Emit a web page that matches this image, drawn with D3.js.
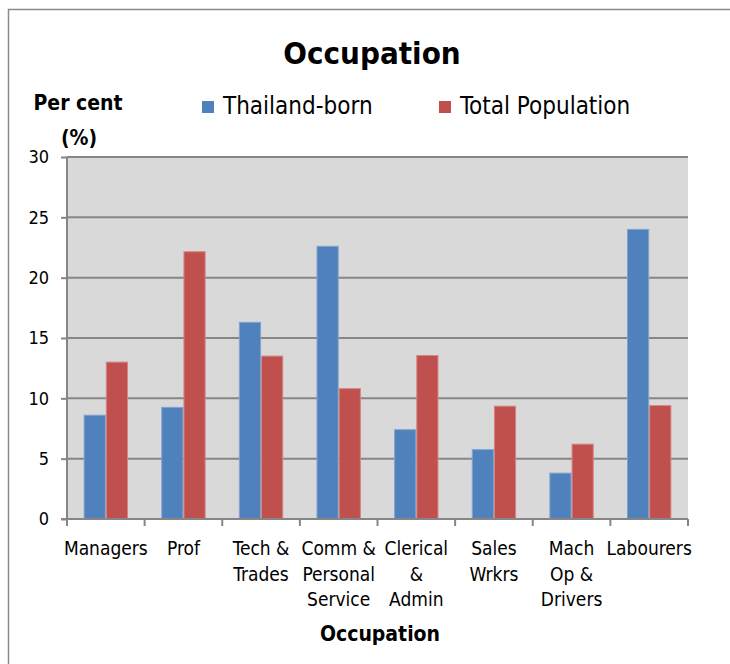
<!DOCTYPE html>
<html>
<head>
<meta charset="utf-8">
<script src="https://cdn.jsdelivr.net/npm/d3@7"></script>
<style>
  body { margin: 0; background: #fff; overflow: hidden; }
  svg text { font-family: "Liberation Sans Narrow", "DejaVu Sans Condensed", "Roboto", sans-serif; fill: #000; }
</style>
</head>
<body>
<div id="chart"></div>
<script>
var occupations = ["Managers", "Prof", "Tech & Trades", "Comm & Personal Service", "Clerical & Admin", "Sales Wrkrs", "Mach Op & Drivers", "Labourers"];
// how each category label wraps under the axis
var labelLines = [["Managers"], ["Prof"], ["Tech &", "Trades"], ["Comm &", "Personal", "Service"], ["Clerical", "&", "Admin"], ["Sales", "Wrkrs"], ["Mach", "Op &", "Drivers"], ["Labourers"]];
var seriesNames = ["Thailand-born", "Total Population"];
var thailandBorn = [8.6, 9.25, 16.3, 22.6, 7.4, 5.75, 3.8, 24.0];
var totalPopulation = [13.0, 22.15, 13.5, 10.8, 13.55, 9.35, 6.2, 9.4];
var yTicks = [0, 5, 10, 15, 20, 25, 30];

var colors = ["#4F81BD", "#C0504D"];
var edges = ["#7FA3CF", "#D48583"];

//set the dimensions and margins of the graph
var W = 730, H = 664;
var margin = {top:157, right:42, bottom:145, left:67},
    width = 688 - margin.left,
    height = 519 - margin.top;

var svgRoot = d3.select("#chart")
    .append("svg")
        .attr("width", W)
        .attr("height", H)
        .style("display", "block");

// outer chart frame: only top and left edges are inside the picture
svgRoot.append("path")
    .attr("d", "M8.5," + H + "V9.5H" + W)
    .style("fill", "none")
    .style("stroke", "#8a8a8a")
    .style("stroke-width", 1.5);

var svg = svgRoot.append("g")
    .attr("transform", "translate(" + margin.left + "," + margin.top + ")");

var data = occupations.map(function(d, i){
    return {occ: d, values: [thailandBorn[i], totalPopulation[i]]};
});

//scales
var x = d3.scaleBand()
    .domain(occupations)
    .range([0, width]);
var bw = x.bandwidth() / 3.5;   // gap width 150%
var xs = d3.scaleBand()
    .domain([0, 1])
    .range([0.75 * bw, 2.75 * bw]);

var y = d3.scaleLinear()
    .domain([0, 30])
    .range([height, 0]);

//plot background
svg.append("rect")
    .attr("width", width)
    .attr("height", height)
    .style("fill", "#D9D9D9");

//gridlines
svg.append("g")
    .selectAll("line")
    .data(yTicks.filter(function(t){ return t > 0; }))
    .join("line")
        .attr("x1", 0).attr("x2", width)
        .attr("y1", function(d){ return y(d); })
        .attr("y2", function(d){ return y(d); })
        .style("stroke", "#868686")
        .style("stroke-width", 2);

//bars
var groups = svg.selectAll(".grp")
    .data(data)
    .join("g")
        .attr("class", "grp")
        .attr("transform", function(d){ return "translate(" + x(d.occ) + ",0)"; });

groups.selectAll("rect")
    .data(function(d){ return d.values; })
    .join("rect")
        .attr("x", function(d, i){ return xs(i) + 0.5; })
        .attr("y", function(d){ return y(d); })
        .attr("width", bw - 1)
        .attr("height", function(d){ return height - y(d); })
        .style("fill", function(d, i){ return colors[i]; })
        .style("stroke", function(d, i){ return edges[i]; })
        .style("stroke-width", 1);

//y axis
var yAxis = svg.append("g")
    .call(d3.axisLeft(y).tickValues(yTicks).tickSize(6).tickPadding(12))
    .call(function(g){ g.select(".domain").attr("d", "M0," + (height + 1) + "V0"); });
yAxis.selectAll("line, path").style("stroke", "#868686").style("stroke-width", 2);
yAxis.selectAll("text").style("font-size", "18px").style("fill", "#000");

//x axis
var xAxis = svg.append("g")
    .attr("transform", "translate(0," + height + ")");
xAxis.append("line")
    .attr("x1", -6).attr("x2", width)
    .style("stroke", "#868686").style("stroke-width", 2);
xAxis.selectAll(".tk")
    .data(occupations.concat(["end"]))
    .join("line")
        .attr("class", "tk")
        .attr("x1", function(d, i){ return i * x.step(); })
        .attr("x2", function(d, i){ return i * x.step(); })
        .attr("y1", 0).attr("y2", 7)
        .style("stroke", "#868686").style("stroke-width", 2);

var labels = xAxis.selectAll(".lbl")
    .data(data)
    .join("text")
        .attr("class", "lbl")
        .attr("text-anchor", "middle")
        .style("font-size", "19px")
        .attr("transform", function(d){ return "translate(" + (x(d.occ) + x.bandwidth() / 2) + ",36)"; });
labels.selectAll("tspan")
    .data(function(d, i){ return labelLines[i]; })
    .join("tspan")
        .attr("x", 0)
        .attr("y", function(d, i){ return i * 25.5; })
        .text(function(d){ return d; });

//title
svgRoot.append("text")
    .attr("x", 372).attr("y", 64)
    .attr("text-anchor", "middle")
    .style("font-size", "31px")
    .style("font-weight", "bold")
    .text("Occupation");

//axis titles
svgRoot.append("text")
    .attr("x", 380).attr("y", 641)
    .attr("text-anchor", "middle")
    .style("font-size", "21px")
    .style("font-weight", "bold")
    .text("Occupation");

svgRoot.append("text")
    .attr("x", 78).attr("y", 110)
    .attr("text-anchor", "middle")
    .style("font-size", "21px")
    .style("font-weight", "bold")
    .text("Per cent");
svgRoot.append("text")
    .attr("x", 79).attr("y", 145)
    .attr("text-anchor", "middle")
    .style("font-size", "21px")
    .style("font-weight", "bold")
    .text("(%)");

//legend
var legendX = [202, 439];
var legend = svgRoot.selectAll(".leg")
    .data(seriesNames)
    .join("g")
        .attr("class", "leg")
        .attr("transform", function(d, i){ return "translate(" + legendX[i] + ",101)"; });
legend.append("rect")
    .attr("width", 12).attr("height", 12)
    .style("fill", function(d, i){ return colors[i]; });
legend.append("text")
    .attr("x", 21).attr("y", 13)
    .style("font-size", "24px")
    .text(function(d){ return d; });
</script>
</body>
</html>
